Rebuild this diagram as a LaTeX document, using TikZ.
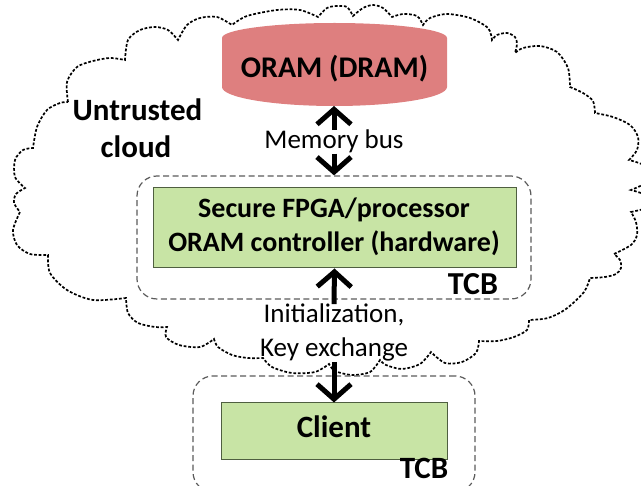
\documentclass[tikz,border=0pt]{standalone}
\usepackage{fontspec}
\setmainfont{Carlito}
\usetikzlibrary{arrows.meta}
\definecolor{oramred}{HTML}{DE7F7F}
\definecolor{boxgreen}{HTML}{C8E4A5}
\definecolor{boxedge}{HTML}{4F5F40}
\definecolor{tcbgray}{HTML}{5A5A5A}
\begin{document}
\begin{tikzpicture}[x=1pt,y=-1pt,
  greenbox/.style={draw=boxedge, line width=1pt, fill=boxgreen, inner sep=0pt},
  tcbbox/.style={draw=tcbgray, line width=1.2pt, dash pattern=on 6pt off 3.5pt, rounded corners=20pt, inner sep=0pt},
  cloudline/.style={draw=black, line width=1.7pt, dash pattern=on 2.8pt off 1.8pt},
  arr/.style={line width=5pt, -{Straight Barb[length=15pt,width=34pt]}},
  lbl/.style={font=\fontsize{27}{30}\selectfont, inner sep=0pt, anchor=base},
  bld/.style={font=\fontsize{28}{32}\selectfont\bfseries, inner sep=0pt, anchor=base},
  big/.style={font=\fontsize{31}{34}\selectfont\bfseries, inner sep=0pt, anchor=base},
]
\useasboundingbox (0,0) rectangle (641,486);
\clip (0,0) rectangle (641,486);

% cloud
\draw[cloudline]
  plot[smooth] coordinates {(68,102) (67,82) (77,67) (93,61) (110,58) (125,60)}
  -- plot[smooth] coordinates {(125,60) (128,40) (140,30) (155,27) (168,30) (178,40)}
  -- plot[smooth] coordinates {(178,40) (187,25) (200,18) (217,17) (232,25)}
  -- plot[smooth] coordinates {(232,25) (247,16) (277,10) (300,10) (318,17)}
  -- plot[smooth] coordinates {(318,17) (327,8) (337,6) (347,7) (353,16)}
  -- plot[smooth] coordinates {(353,16) (363,8) (373,5) (383,8) (392,17)}
  -- plot[smooth] coordinates {(392,17) (403,14) (417,16) (423,25)}
  -- plot[smooth] coordinates {(423,25) (430,18) (447,14) (470,18) (488,28) (492,40)}
  -- plot[smooth] coordinates {(492,40) (497,35) (507,33) (515,37) (517,44) (515,53)}
  -- plot[smooth] coordinates {(515,53) (523,48) (540,46) (557,52) (568,68) (570,87)}
  -- plot[smooth] coordinates {(570,87) (583,93) (593,101) (595,113)}
  -- plot[smooth] coordinates {(595,113) (613,117) (630,125) (638,137) (637,150) (629,160)}
  -- plot[smooth] coordinates {(629,160) (645,166) (650,180) (631,190)}
  -- plot[smooth] coordinates {(631,190) (648,196) (652,206) (631,212)}
  -- plot[smooth] coordinates {(631,212) (636,222) (637,235) (631,245) (614,254)}
  -- plot[smooth] coordinates {(614,254) (620,260) (621,268) (616,274) (605,277) (590,278)}
  -- plot[smooth] coordinates {(590,278) (584,292) (566,309) (548,318) (529,320)}
  -- plot[smooth] coordinates {(529,320) (527,330) (514,337) (497,341) (479,341)}
  -- plot[smooth] coordinates {(479,341) (476,353) (462,362) (445,363) (431,352)}
  -- plot[smooth] coordinates {(431,352) (420,364) (402,369) (386,365) (380,360)}
  -- plot[smooth] coordinates {(380,360) (370,372) (352,375) (335,371) (329,364)}
  -- plot[smooth] coordinates {(329,364) (315,372) (292,373) (272,367) (263,358)}
  -- plot[smooth] coordinates {(263,358) (248,358) (232,355) (218,347) (214,339)}
  -- plot[smooth] coordinates {(214,339) (200,347) (179,345) (166,337) (167,327)}
  -- plot[smooth] coordinates {(167,327) (155,327) (138,323) (128,313) (126,298)}
  -- plot[smooth] coordinates {(126,298) (93,300) (67,290) (50,273) (48,255)}
  -- plot[smooth] coordinates {(48,255) (30,254) (17,245) (13,230) (20,212)}
  -- plot[smooth] coordinates {(20,212) (14,203) (16,194) (25,188)}
  -- plot[smooth] coordinates {(25,188) (15,177) (15,160) (23,150) (33,148)}
  -- plot[smooth] coordinates {(33,148) (37,127) (47,110) (60,103) (68,102)};

% ORAM cylinder
\fill[oramred] (222,38) arc[start angle=180, end angle=360, x radius=112.5, y radius=15]
  -- (447,87) arc[start angle=0, end angle=180, x radius=112.5, y radius=19] -- cycle;
\node[big, font=\fontsize{30}{34}\selectfont\bfseries] (oram) at (334.5,78) {ORAM (DRAM)};
\coordinate (orambot) at (334,106);

% untrusted cloud label
\node[big] (untr) at (137.5,121) {Untrusted};
\node[big] (cloudlbl) at (136,158) {cloud};

% TCB boxes
\node[tcbbox, minimum width=394pt, minimum height=123pt] (tcb1) at (334,237.5) {};
\node[tcbbox, minimum width=282pt, minimum height=116pt] (tcb2) at (334,434) {};

% green boxes
\node[greenbox, minimum width=363pt, minimum height=80pt] (fpga) at (334.5,228) {};
\node[bld] (fpgaA) at (334,218) {Secure FPGA/processor};
\node[bld] (fpgaB) at (334,252) {ORAM controller (hardware)};
\node[greenbox, minimum width=226pt, minimum height=57pt] (client) at (334,431.5) {};
\node[big] (clientlbl) at (334,438) {Client};

\node[big, font=\fontsize{32}{34}\selectfont\bfseries] (tcbA) at (473,295) {TCB};
\node[big, font=\fontsize{31}{34}\selectfont\bfseries] (tcbB) at (424,479) {TCB};

% labels and arrows
\node[lbl] (membus) at (334,149) {Memory bus};
\node[lbl] (init1) at (334,323) {Initialization,};
\node[lbl] (init2) at (334,357) {Key exchange};

\draw[arr] (membus.north) -- (orambot);
\draw[arr] (membus.south) -- (tcb1.north);
\draw[arr] (init1.north) -- (fpga.south);
\draw[arr] (init2.south) -- (client.north);
\end{tikzpicture}
\end{document}
